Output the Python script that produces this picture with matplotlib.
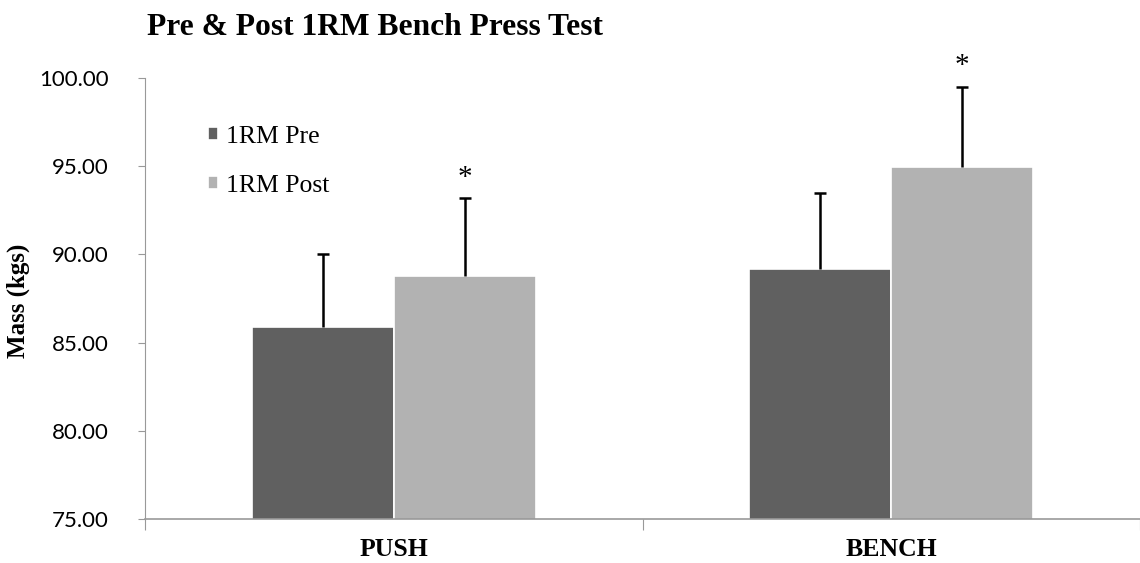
import numpy as np
import matplotlib.pyplot as plt

# data
categories = ['PUSH', 'BENCH']
series = ['1RM Pre', '1RM Post']
pre_mean = [85.88, 89.15]
post_mean = [88.75, 94.95]
pre_sd = [4.12, 4.33]
post_sd = [4.42, 4.55]
colors = ['#606060', '#b2b2b2']
sig_marks = ['*', '*']

serif = 'Liberation Serif'

fig = plt.figure(figsize=(11.4, 5.63), dpi=100)
ax = fig.add_axes([0.1272, 0.0782, 0.8728, 0.7833])

x = np.arange(len(categories))
w = 0.285
means = [pre_mean, post_mean]
sds = [pre_sd, post_sd]
offsets = [-w / 2, w / 2]

for i in range(2):
    xs = x + offsets[i]
    tops = np.array(means[i]) + np.array(sds[i])
    ax.bar(xs, means[i], width=w, color=colors[i], edgecolor='white',
           linewidth=1.2, label=series[i], zorder=2)
    # upper error bar only, cap on top
    ax.vlines(xs, means[i], tops, color='black', linewidth=1.8, zorder=3)
    ax.plot(xs, tops, ls='none', marker='_', markersize=9, mew=1.8, color='black', zorder=3)

# significance stars above post bars
for xi, m, s, mark in zip(x, post_mean, post_sd, sig_marks):
    ax.text(xi + offsets[1], m + s + 0.45, mark, ha='center', va='bottom',
            fontsize=21, family=serif)

ax.set_ylim(75, 100)
ax.set_xlim(-0.5, 1.5)
ticks = np.arange(75, 100.1, 5)
ax.set_yticks(ticks)
ax.set_yticklabels([f'{v:.2f}' for v in ticks], fontsize=16, family='Lato')
ax.set_xticks([-0.5, 0.5, 1.5])
ax.set_xticklabels([])
ax.tick_params(axis='x', length=8, color='#999999', direction='out')
ax.tick_params(axis='y', length=5, color='#999999', direction='out', pad=21)
for xi, c in zip(x, categories):
    ax.text(xi, -0.07, c, transform=ax.get_xaxis_transform(), ha='center', va='center',
            fontsize=18.5, fontweight='bold', family=serif)

for side in ['top', 'right']:
    ax.spines[side].set_visible(False)
ax.spines['left'].set_color('#999999')
ax.spines['bottom'].set_color('#999999')
ax.spines['bottom'].set_linewidth(1.2)

fig.text(18 / 1140, 0.465, 'Mass (kgs)', rotation=90, ha='center', va='center',
         fontsize=18, fontweight='bold', family=serif)
fig.text(0.129, 0.952, 'Pre & Post 1RM Bench Press Test', fontsize=22.7,
         fontweight='bold', family=serif, ha='left', va='center')

leg = ax.legend(loc='upper left', bbox_to_anchor=(0.053, 0.915), frameon=False,
                prop={'family': serif, 'size': 18.5}, handlelength=0.4, handleheight=0.4,
                handletextpad=0.3, labelspacing=1.05, borderaxespad=0)

fig.savefig('out.png', dpi=100)
